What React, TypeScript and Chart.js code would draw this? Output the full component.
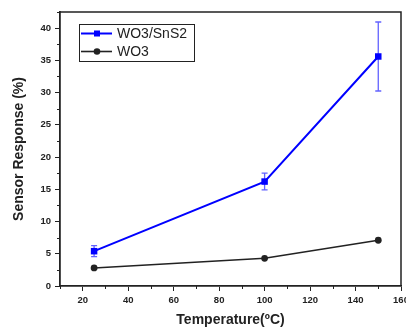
import React, { useEffect, useRef } from "react";
import { Chart, registerables } from "chart.js";

Chart.register(...registerables);

const temperatures = [25, 100, 150];
const wo3SnS2 = [5.4, 16.2, 35.6];
const wo3SnS2Err = [0.85, 1.3, 5.35];
const wo3 = [2.8, 4.3, 7.1];
const wo3Err = [0, 0, 0];

const xMajorTicks = [20, 40, 60, 80, 100, 120, 140, 160];
const xMinorTicks = [10, 30, 50, 70, 90, 110, 130, 150];
const yMajorTicks = [0, 5, 10, 15, 20, 25, 30, 35, 40];
const yMinorTicks = [2.5, 7.5, 12.5, 17.5, 22.5, 27.5, 32.5, 37.5, 42.5];

const FONT = "Arial, 'Liberation Sans', sans-serif";
const INK = "#222";

const errorBarPlugin = {
  id: "errorBars",
  beforeDatasetsDraw(chart: any) {
    const { ctx } = chart;
    const xs = chart.scales.x;
    const ys = chart.scales.y;
    chart.data.datasets.forEach((ds: any) => {
      const errs: number[] = ds.errors || [];
      ctx.save();
      ctx.strokeStyle = ds.errorColor || ds.borderColor;
      ctx.lineWidth = 1.3;
      ds.data.forEach((p: any, i: number) => {
        const e = errs[i];
        if (!e) return;
        const px = xs.getPixelForValue(p.x);
        const yTop = ys.getPixelForValue(p.y + e);
        const yBot = ys.getPixelForValue(p.y - e);
        ctx.beginPath();
        ctx.moveTo(px, yTop);
        ctx.lineTo(px, yBot);
        ctx.moveTo(px - 3, yTop);
        ctx.lineTo(px + 3, yTop);
        ctx.moveTo(px - 3, yBot);
        ctx.lineTo(px + 3, yBot);
        ctx.stroke();
      });
      ctx.restore();
    });
  },
};

const framePlugin = {
  id: "frame",
  afterDraw(chart: any) {
    const { ctx, chartArea } = chart;
    const { left, top, right, bottom } = chartArea;
    const xs = chart.scales.x;
    const ys = chart.scales.y;
    ctx.save();
    ctx.strokeStyle = INK;
    ctx.lineWidth = 1.5;
    ctx.beginPath();
    ctx.moveTo(left, top);
    ctx.lineTo(right, top);
    ctx.lineTo(right, bottom);
    ctx.stroke();
    // minor ticks
    ctx.lineWidth = 1;
    ctx.beginPath();
    xMinorTicks.forEach((v) => {
      const px = Math.round(xs.getPixelForValue(v)) + 0.5;
      ctx.moveTo(px, bottom);
      ctx.lineTo(px, bottom + 3);
    });
    yMinorTicks.forEach((v) => {
      const py = Math.round(ys.getPixelForValue(v)) + 0.5;
      if (py < top) return;
      ctx.moveTo(left, py);
      ctx.lineTo(left - 3, py);
    });
    ctx.stroke();

    // legend
    const x0 = left + 19;
    const y0 = top + 12;
    const w = 115;
    const h = 37;
    ctx.lineWidth = 1;
    ctx.strokeStyle = INK;
    ctx.strokeRect(x0 + 0.5, y0 + 0.5, w, h);
    chart.data.datasets.forEach((ds: any, i: number) => {
      const cy = y0 + 9.5 + i * 18;
      ctx.strokeStyle = ds.borderColor;
      ctx.lineWidth = ds.borderWidth;
      ctx.beginPath();
      ctx.moveTo(x0 + 2, cy);
      ctx.lineTo(x0 + 33, cy);
      ctx.stroke();
      ctx.fillStyle = ds.pointBackgroundColor;
      const mx = x0 + 18;
      if (ds.pointStyle === "rect") {
        ctx.fillRect(mx - 3, cy - 3, 6, 6);
      } else {
        ctx.beginPath();
        ctx.arc(mx, cy, 3.3, 0, Math.PI * 2);
        ctx.fill();
      }
      ctx.fillStyle = INK;
      ctx.font = `14px ${FONT}`;
      ctx.textBaseline = "middle";
      ctx.textAlign = "left";
      ctx.fillText(ds.label, x0 + 38, cy + 0.5);
    });
    ctx.restore();
  },
};

export default function App() {
  const ref = useRef<HTMLCanvasElement>(null);
  useEffect(() => {
    if (!ref.current) return;
    const chart = new Chart(ref.current, {
      type: "line",
      data: {
        datasets: [
          {
            label: "WO3/SnS2",
            data: temperatures.map((t, i) => ({ x: t, y: wo3SnS2[i] })),
            errors: wo3SnS2Err,
            errorColor: "rgba(70,70,255,0.85)",
            borderColor: "#0000ff",
            backgroundColor: "#0000ff",
            pointBackgroundColor: "#0000ff",
            pointBorderColor: "#0000ff",
            pointStyle: "rect",
            pointRadius: 4.6,
            pointBorderWidth: 0,
            borderWidth: 2,
            tension: 0,
          } as any,
          {
            label: "WO3",
            data: temperatures.map((t, i) => ({ x: t, y: wo3[i] })),
            errors: wo3Err,
            borderColor: INK,
            backgroundColor: INK,
            pointBackgroundColor: INK,
            pointBorderColor: INK,
            pointStyle: "circle",
            pointRadius: 3.4,
            pointBorderWidth: 0,
            borderWidth: 1.6,
            tension: 0,
          } as any,
        ],
      },
      options: {
        animation: false,
        responsive: false,
        layout: { padding: { top: 12, right: 5, left: 0, bottom: 0 } },
        plugins: { legend: { display: false }, tooltip: { enabled: false } },
        scales: {
          x: {
            type: "linear",
            min: 10,
            max: 160,
            afterBuildTicks: (s: any) => {
              s.ticks = xMajorTicks.map((v) => ({ value: v }));
            },
            afterFit: (s: any) => {
              s.height = 41;
              s.paddingRight = 0;
              s.paddingLeft = 0;
            },
            grid: {
              drawOnChartArea: false,
              drawTicks: true,
              tickLength: 5,
              tickColor: INK,
              tickWidth: 1,
            },
            border: { display: true, color: INK, width: 1.8 },
            ticks: {
              color: INK,
              font: { family: FONT, size: 9.5, weight: "bold" },
              padding: 4,
              maxRotation: 0,
              autoSkip: false,
            },
            title: {
              display: true,
              text: "Temperature(ºC)",
              color: INK,
              font: { family: FONT, size: 14, weight: "bold", lineHeight: 1 },
              padding: { top: 0, bottom: 0 },
            },
          },
          y: {
            type: "linear",
            min: 0,
            max: 42.5,
            afterBuildTicks: (s: any) => {
              s.ticks = yMajorTicks.map((v) => ({ value: v }));
            },
            afterFit: (s: any) => {
              s.width = 60;
              s.paddingTop = 0;
              s.paddingBottom = 0;
            },
            grid: {
              drawOnChartArea: false,
              drawTicks: true,
              tickLength: 5,
              tickColor: INK,
              tickWidth: 1,
            },
            border: { display: true, color: INK, width: 1.8 },
            ticks: {
              color: INK,
              font: { family: FONT, size: 9.5, weight: "bold" },
              padding: 4,
              autoSkip: false,
            },
            title: {
              display: true,
              text: "Sensor Response (%)",
              color: INK,
              font: { family: FONT, size: 14, weight: "bold", lineHeight: 1 },
              padding: { top: 12, bottom: 0 },
            },
          },
        },
      } as any,
      plugins: [errorBarPlugin, framePlugin],
    });
    return () => chart.destroy();
  }, []);
  return (
    <div style={{ position: "absolute", left: 0, top: 0, width: 406, height: 327, background: "#fff" }}>
      <canvas ref={ref} width={406} height={327} style={{ width: 406, height: 327 }} />
    </div>
  );
}
